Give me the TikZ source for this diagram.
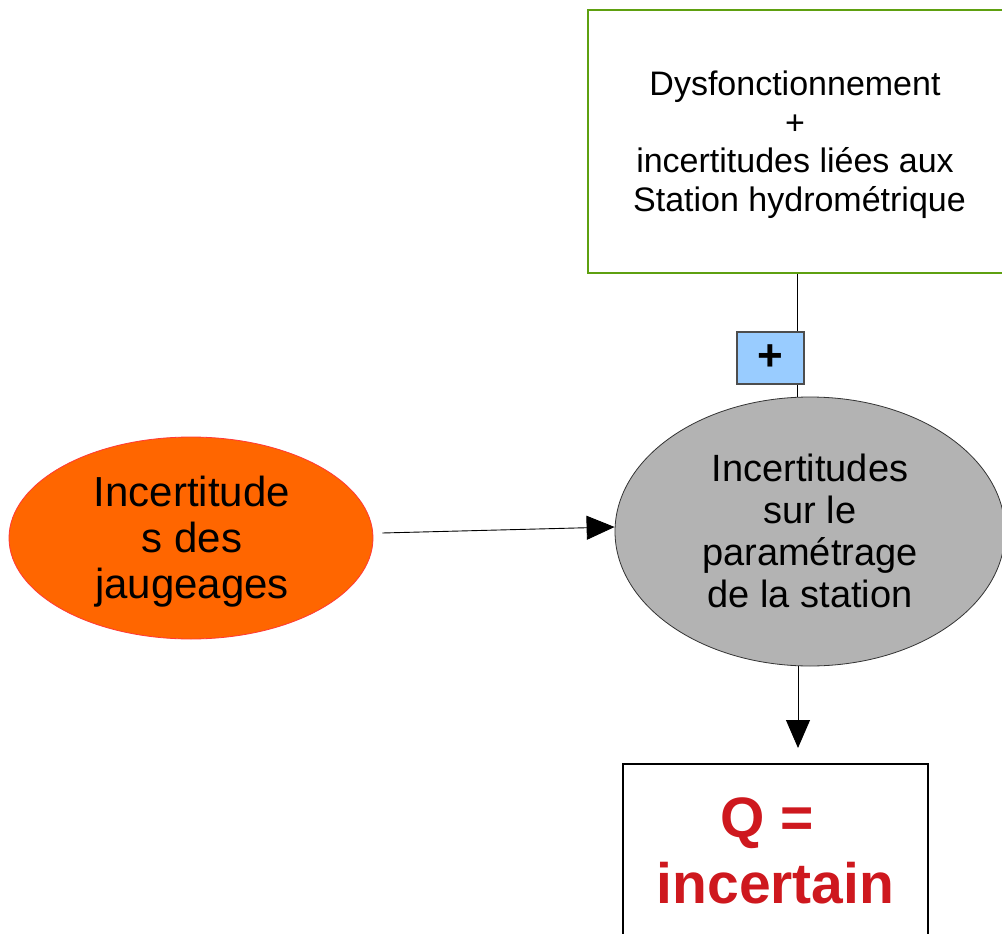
\documentclass[tikz,border=0pt]{standalone}
\usepackage{fontspec}
\setmainfont{Liberation Sans}
\usetikzlibrary{arrows.meta,shapes.geometric}
\definecolor{boxgreen}{HTML}{5EA010}
\definecolor{orangefill}{HTML}{FF6600}
\definecolor{orangeline}{HTML}{FF3838}
\definecolor{grayfill}{HTML}{B3B3B3}
\definecolor{grayline}{HTML}{333333}
\definecolor{bluefill}{HTML}{99CCFF}
\definecolor{blueline}{HTML}{4D4D4D}
\definecolor{qred}{HTML}{CE181E}
\tikzset{
  arr/.style={-{Triangle[length=28pt,width=24pt]}, line width=0.9pt, black},
  conn/.style={line width=0.9pt, black},
  lbl/.style={inner sep=0pt, align=center},
}
\begin{document}
\begin{tikzpicture}[x=1pt,y=-1pt]
\useasboundingbox (0,0) rectangle (1002,934);
\begin{scope}
\clip (0,0) rectangle (1002,934);
% green box
\node[draw=boxgreen, line width=2pt, minimum width=416pt, minimum height=262pt, inner sep=0pt]
  (green) at (795.5,141.5) {};
\node[lbl, font=\fontsize{34}{38.5}\selectfont, anchor=base]
  (greentext) at (795,211) {Dysfonctionnement\\+\\incertitudes liées aux\\\hspace*{9pt}Station hydrométrique};
% orange ellipse
\node[ellipse, draw=orangeline, fill=orangefill, line width=0.8pt, minimum width=364pt, minimum height=202pt,
      inner sep=0pt] (orange) at (191,538) {};
\node[lbl, font=\fontsize{42}{46}\selectfont, anchor=base]
  (orangetext) at (192,598) {Incertitude\\s des\\jaugeages};
% gray ellipse
\node[ellipse, draw=grayline, fill=grayfill, line width=0.8pt, minimum width=390pt, minimum height=269pt,
      inner sep=0pt] (gray) at (810,531.5) {};
\node[lbl, font=\fontsize{38}{41.7}\selectfont, anchor=base]
  (graytext) at (810,607) {Incertitudes\\sur le\\paramétrage\\de la station};
% Q box
\node[draw=black, line width=2pt, minimum width=305pt, minimum height=260pt, inner sep=0pt, anchor=north]
  (q) at (775.5,763) {};
\node[lbl, text=qred, font=\fontsize{57}{66}\selectfont\bfseries, anchor=base]
  (qtext) at (775.5,903) {Q =\hspace*{16pt}\\incertain};
% connector green -> gray
\draw[conn] ([xshift=2pt]green.south) -- ([xshift=2pt]green.south |- gray.north);
% plus box
\node[draw=blueline, fill=bluefill, line width=1.2pt, minimum width=67pt, minimum height=52pt, inner sep=0pt,
      font=\fontsize{44}{48}\selectfont\bfseries]
  (plus) at (770.5,358) {+};
% arrows
\draw[arr] ([shift={(9,-5)}]orange.east) -- ([shift={(0,-4.5)}]gray.west);
\draw[arr, shorten >=15pt] ([xshift=-12pt]gray.south) -- ([xshift=-12pt]gray.south |- q.north);
\end{scope}
\end{tikzpicture}
\end{document}
